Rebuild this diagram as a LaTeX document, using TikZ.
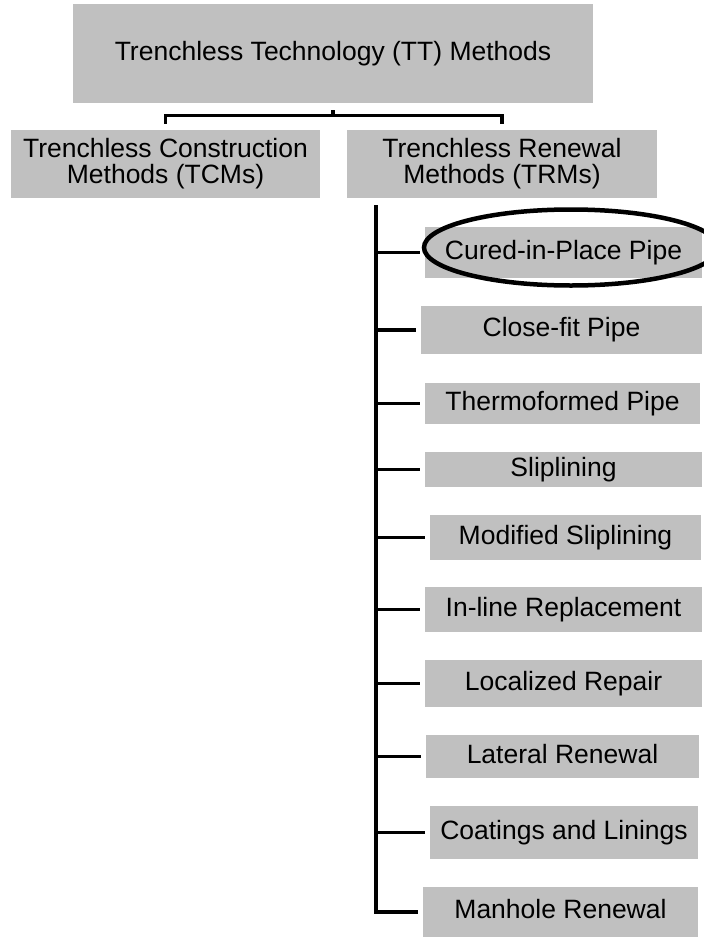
\documentclass[tikz,border=0pt]{standalone}
\usepackage{fontspec}
\setmainfont{Liberation Sans}
\usetikzlibrary{shapes.geometric}
\definecolor{boxgray}{RGB}{192,192,192}
\tikzset{
  box/.style={fill=boxgray, inner sep=0pt, font=\fontsize{26.5}{26}\selectfont},
  item/.style={box, text height=19pt, text depth=6pt},
  head/.style={box, align=center},
  link/.style={line width=3.3pt},
}
\begin{document}
\begin{tikzpicture}[x=1pt, y=-1pt]
\useasboundingbox (0,0) rectangle (704,937);

% top level and the two method families
\node[head, minimum width=520pt, minimum height=99pt] (tt) at (333,53.5) {Trenchless Technology (TT) Methods};
\node[head, minimum width=309pt, minimum height=68pt] (tcm) at (165.5,164) {Trenchless Construction\\Methods (TCMs)};
\node[head, minimum width=310pt, minimum height=68pt] (trm) at (502,164) {Trenchless Renewal\\Methods (TRMs)};

% renewal methods
\node[item, minimum width=277pt, minimum height=51pt] (m1)  at (563.5,252.5) {Cured-in-Place Pipe};
\node[item, minimum width=281pt, minimum height=48pt] (m2)  at (561.5,330)   {Close-fit Pipe};
\node[item, minimum width=275pt, minimum height=41pt] (m3)  at (562.5,403.5) {Thermoformed Pipe};
\node[item, minimum width=277pt, minimum height=35pt] (m4)  at (563.5,469.5) {Sliplining};
\node[item, minimum width=271pt, minimum height=45pt] (m5)  at (565.5,537.5) {Modified Sliplining};
\node[item, minimum width=277pt, minimum height=45pt] (m6)  at (563.5,609.5) {In-line Replacement};
\node[item, minimum width=277pt, minimum height=47pt] (m7)  at (563.5,683.5) {Localized Repair};
\node[item, minimum width=273pt, minimum height=43pt] (m8)  at (562.5,756.5) {Lateral Renewal};
\node[item, minimum width=268pt, minimum height=53pt] (m9)  at (564,832.5)   {Coatings and Linings};
\node[item, minimum width=275pt, minimum height=50pt] (m10) at (560.5,912)   {Manhole Renewal};

% highlight ring around the first method
\node[draw, ellipse, line width=4.5pt, minimum width=294pt, minimum height=76pt] (ring) at (571,247.5) {};

% bracket from the top box to the two families
\coordinate (fork) at (333,115.5);
\draw[link] ([yshift=-7pt]tt.south) -- (fork);
\draw[link] ([yshift=6pt]tcm.north) |- (fork) -| ([yshift=6pt]trm.north);

% spine with branches to every renewal method
\coordinate (spinetop) at (376,205);
\draw[link, line join=miter] (spinetop) |- ([xshift=-5pt]m10.west);
\foreach \m in {m1,m2,m3,m4,m5,m6,m7,m8,m9}
  \draw[link] (spinetop |- \m.west) -- ([xshift=-5pt]\m.west);
\end{tikzpicture}
\end{document}
